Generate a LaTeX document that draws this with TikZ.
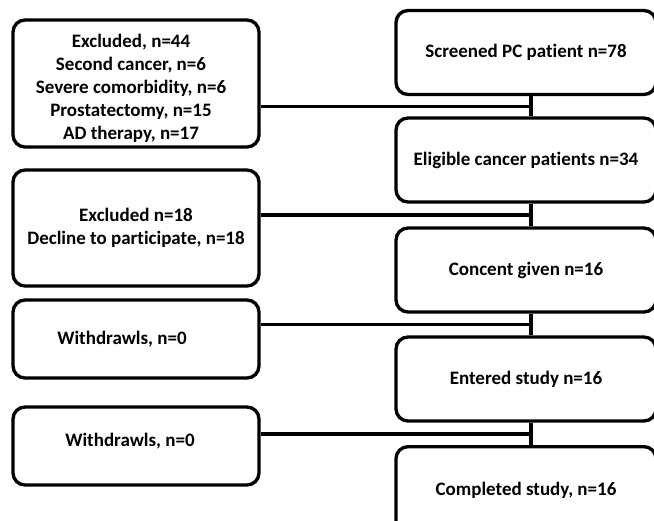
\documentclass[tikz,border=0pt]{standalone}
\usepackage{fontspec}
\setmainfont{Carlito}[Ligatures=NoCommon]
\usetikzlibrary{calc}

\tikzset{every picture/.style={line width=0.75pt}}
\tikzset{
  sidebox/.style={draw, line width=2.5pt, rounded corners=9pt, minimum width=184.5pt, inner sep=0pt, align=center, font=\bfseries\fontsize{14.25}{17.25}\selectfont},
  stagebox/.style={draw, line width=2.5pt, rounded corners=9pt, minimum width=195pt, minimum height=63pt, inner sep=0pt, align=center, font=\bfseries\fontsize{14.25}{17.25}\selectfont},
  joinline/.style={line width=2.5pt}
}

\begin{document}
\begin{tikzpicture}[x=0.75pt,y=0.75pt,yscale=-1,xscale=1]
\useasboundingbox (0,0) rectangle (654,521);
\clip (0,0) rectangle (654,521);

%Shape: Rounded Rect [main column]
\node [stagebox] (r1) at (526,52.5) {Screened PC patient n=78};
\node [stagebox] (r2) at (526,160) {Eligible cancer patients n=34};
\node [stagebox] (r3) at (526,270) {Concent given n=16};
\node [stagebox] (r4) at (526,379) {Entered study n=16};
\node [stagebox, minimum height=66pt, anchor=north] (r5) at (526,445) {Completed study, n=16};

%Shape: Rounded Rect [side column]
\node [sidebox, minimum height=95.25pt] (l1) at (136,83.5) {\hspace*{-7.5pt}\begin{tabular}{@{}c@{}}\rule{0pt}{19.5pt}Excluded, n=44\\Second cancer, n=6\\Severe comorbidity, n=6\\Prostatectomy, n=15\\AD therapy, n=17\end{tabular}};
\node [sidebox, minimum height=87pt] (l2) at (136,228) {Excluded n=18\\Decline to participate, n=18};
\node [sidebox, minimum height=58.5pt] (l3) at (136,339) {\hspace*{-21pt}Withdrawls, n=0};
\node [sidebox, minimum height=58.5pt] (l4) at (136,446) {\hspace*{-9pt}Withdrawls, n=0\rule[-9pt]{0pt}{0pt}};

%Junctions on the main column
\coordinate (j1) at ($(r1.south)!0.5!(r2.north)+(5,0)$);
\coordinate (j2) at ($(r2.south)!0.5!(r3.north)+(5,0)$);
\coordinate (j3) at ($(r3.south)!0.5!(r4.north)+(5,0)$);
\coordinate (j4) at ($(r4.south)!0.5!(r5.north)+(5,0)$);

%Straight Lines
\draw [joinline] ($(r1.south)+(5,0)$) -- ($(r2.north)+(5,0)$);
\draw [joinline] ($(r2.south)+(5,0)$) -- ($(r3.north)+(5,0)$);
\draw [joinline] ($(r3.south)+(5,0)$) -- ($(r4.north)+(5,0)$);
\draw [joinline] ($(r4.south)+(5,0)$) -- ($(r5.north)+(5,0)$);
\draw [joinline] (l1.east |- j1) -- (j1);
\draw [joinline] (l2.east |- j2) -- (j2);
\draw [joinline] (l3.east |- j3) -- (j3);
\draw [joinline] (l4.east |- j4) -- (j4);

\end{tikzpicture}
\end{document}
